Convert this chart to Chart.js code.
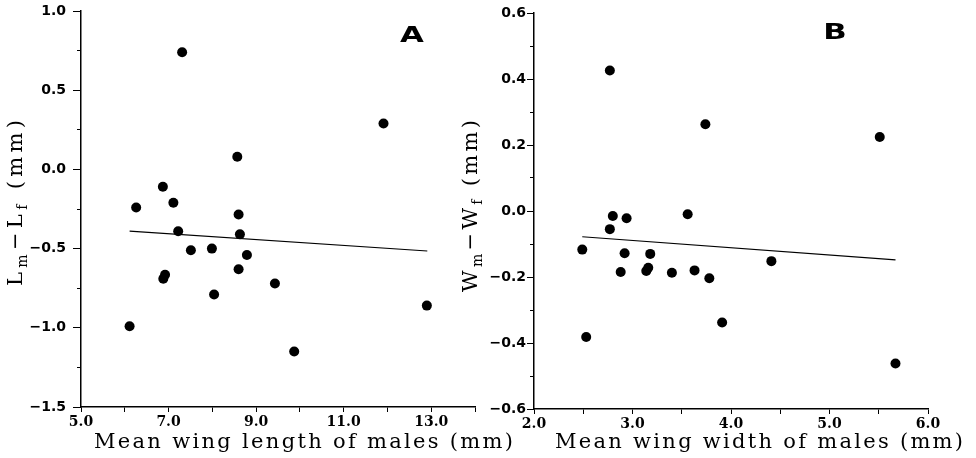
<!DOCTYPE html>
<html>
<head>
<meta charset="utf-8">
<script src="https://cdn.jsdelivr.net/npm/chart.js@4.4.1/dist/chart.umd.min.js"></script>
<style>
  html, body { margin: 0; padding: 0; background: #fff; }
  #wrap { position: relative; width: 976px; height: 458px; }
  #chartA { position: absolute; left: 0; top: 0; width: 520px; height: 458px; }
  #chartB { position: absolute; left: 440px; top: 0; width: 536px; height: 458px; }
</style>
</head>
<body>
<div id="wrap">
  <canvas id="chartA" width="520" height="458"></canvas>
  <canvas id="chartB" width="536" height="458"></canvas>
</div>
<script>
// ===== Data: panel A (wing length) =====
const lengthX = [7.31, 11.91, 8.57, 6.87, 6.26, 7.11, 8.60, 7.22, 8.63, 7.51, 7.99, 8.79, 8.60, 6.92, 6.88, 8.04, 9.43, 6.11, 12.90, 9.87];
const lengthDiff = [0.74, 0.29, 0.08, -0.11, -0.24, -0.21, -0.285, -0.39, -0.41, -0.51, -0.50, -0.54, -0.63, -0.665, -0.69, -0.79, -0.72, -0.99, -0.86, -1.15];
const lengthFitX = [6.11, 12.91];
const lengthFitY = [-0.39, -0.515];
const lengthXTicks = ["5.0", "7.0", "9.0", "11.0", "13.0"];
const lengthYTicks = ["1.0", "0.5", "0.0", "\u22120.5", "\u22121.0", "\u22121.5"];

// ===== Data: panel B (wing width) =====
const widthX = [2.77, 3.74, 5.51, 2.80, 2.94, 3.56, 2.77, 2.49, 2.92, 3.18, 2.88, 3.14, 3.16, 3.40, 3.63, 3.78, 4.41, 2.53, 3.91, 5.67];
const widthDiff = [0.426, 0.263, 0.224, -0.015, -0.022, -0.01, -0.055, -0.117, -0.128, -0.13, -0.185, -0.182, -0.172, -0.187, -0.18, -0.204, -0.152, -0.382, -0.338, -0.462];
const widthFitX = [2.49, 5.67];
const widthFitY = [-0.078, -0.148];
const widthXTicks = ["2.0", "3.0", "4.0", "5.0", "6.0"];
const widthYTicks = ["0.6", "0.4", "0.2", "0.0", "\u22120.2", "\u22120.4", "\u22120.6"];

const fmt = (v) => (Math.abs(v) < 1e-9 ? 0 : v).toFixed(1).replace("-", "\u2212");

// ===== Axis titles and panel letter =====
const panelText = {
  id: "panelText",
  afterDraw(chart, args, o) {
    const ctx = chart.ctx;
    ctx.save();
    ctx.fillStyle = "#000";
    ctx.textBaseline = "alphabetic";

    // panel letter (wide heavy sans)
    ctx.save();
    ctx.font = "bold 22px 'DejaVu Sans'";
    ctx.textAlign = "center";
    ctx.translate(o.letterX, o.letterY);
    ctx.scale(1.4, 1);
    ctx.fillText(o.letter, 0, 0);
    ctx.restore();

    // x title, spread to its width
    ctx.font = "21px 'DejaVu Serif'";
    ctx.textAlign = "left";
    const w = ctx.measureText(o.xTitle).width;
    ctx.letterSpacing = ((o.xRight - o.xLeft - w) / (o.xTitle.length - 1)) + "px";
    ctx.fillText(o.xTitle, o.xLeft, o.xBase);
    ctx.letterSpacing = "0px";

    // y title with subscripts, rotated
    const big = "21px 'DejaVu Serif'";
    const small = "14px 'DejaVu Serif'";
    let total = 0, chars = 0;
    o.yParts.forEach((p) => {
      ctx.font = p.sub ? small : big;
      p.w = ctx.measureText(p.t).width;
      total += p.w;
      chars += p.t.length;
    });
    const sp = (o.yLen - total) / (chars - 1);
    ctx.translate(o.yBase, o.yMid);
    ctx.rotate(-Math.PI / 2);
    let u = -o.yLen / 2;
    o.yParts.forEach((p) => {
      ctx.font = p.sub ? small : big;
      ctx.letterSpacing = sp + "px";
      ctx.fillText(p.t, u, p.sub ? 5 : 0);
      u += p.w + sp * p.t.length;
    });
    ctx.letterSpacing = "0px";
    ctx.restore();
  },
};

const tickFont = (family, size) => ({ family, size, weight: "bold" });

function makeChart(id, xs, ys, fitX, fitY, ax, text) {
  const ctx = document.getElementById(id).getContext("2d");
  return new Chart(ctx, {
    type: "scatter",
    data: {
      datasets: [
        {
          data: xs.map((x, i) => ({ x, y: ys[i] })),
          backgroundColor: "#000",
          borderWidth: 0,
          pointRadius: 5,
        },
        {
          type: "line",
          data: fitX.map((x, i) => ({ x, y: fitY[i] })),
          borderColor: "#000",
          borderWidth: 1.2,
          pointRadius: 0,
          showLine: true,
        },
      ],
    },
    options: {
      responsive: false,
      animation: false,
      events: [],
      layout: { padding: ax.padding, autoPadding: false },
      plugins: { legend: { display: false }, tooltip: { enabled: false }, panelText: text },
      scales: {
        x: {
          type: "linear",
          min: ax.xMin,
          max: ax.xMax,
          afterFit: (s) => { s.height = ax.xHeight; s.paddingLeft = 0; s.paddingRight = 0; },
          ticks: {
            stepSize: ax.xStep,
            autoSkip: false,
            maxRotation: 0,
            padding: 2,
            color: "#000",
            font: tickFont("'DejaVu Serif'", 14),
            callback: (v) => (ax.xLabels.includes(fmt(v)) ? fmt(v) : ""),
          },
          grid: { drawOnChartArea: false, tickLength: 5, color: "#000", lineWidth: 1 },
          border: { display: true, color: "#000", width: 1.5 },
        },
        y: {
          type: "linear",
          min: ax.yMin,
          max: ax.yMax,
          weight: 1,
          afterFit: (s) => { s.width = ax.yWidth; s.paddingTop = 0; s.paddingBottom = 0; },
          ticks: {
            stepSize: ax.yStep,
            autoSkip: false,
            padding: ax.yPad,
            color: "#000",
            font: tickFont("'DejaVu Sans'", 14),
            callback: (v) => (ax.yLabels.includes(fmt(v)) ? fmt(v) : null),
          },
          grid: { drawOnChartArea: false, tickLength: ax.yMajor, color: "#000", lineWidth: 1 },
          border: { display: true, color: "#000", width: 1.5 },
        },
        yMinor: {
          type: "linear",
          position: "left",
          min: ax.yMin,
          max: ax.yMax,
          weight: 0,
          afterFit: (s) => { s.width = 0; s.paddingTop = 0; s.paddingBottom = 0; },
          ticks: { stepSize: ax.yStep / 2, autoSkip: false, callback: () => "" },
          grid: { drawOnChartArea: false, tickLength: 4, color: "#000", lineWidth: 1 },
          border: { display: false },
        },
      },
    },
    plugins: [panelText],
  });
}

makeChart("chartA", lengthX, lengthDiff, lengthFitX, lengthFitY,
  {
    xMin: 5, xMax: 14, xStep: 1, xLabels: lengthXTicks, xHeight: 51,
    yMin: -1.5, yMax: 1.0, yStep: 0.5, yLabels: lengthYTicks, yWidth: 81, yPad: 7, yMajor: 8,
    padding: { top: 11, right: 45, left: 0, bottom: 0 },
  },
  {
    letter: "A", letterX: 412, letterY: 42,
    xTitle: "Mean wing length of males (mm)", xLeft: 94, xRight: 513, xBase: 448,
    yParts: [{ t: "L" }, { t: "m", sub: true }, { t: "\u2212" }, { t: "L" }, { t: "f", sub: true }, { t: " (mm)" }],
    yBase: 22, yMid: 203, yLen: 166,
  });

makeChart("chartB", widthX, widthDiff, widthFitX, widthFitY,
  {
    xMin: 2, xMax: 6, xStep: 0.5, xLabels: widthXTicks, xHeight: 49,
    yMin: -0.6, yMax: 0.6, yStep: 0.2, yLabels: widthYTicks, yWidth: 94, yPad: 1, yMajor: 7,
    padding: { top: 13, right: 48, left: 0, bottom: 0 },
  },
  {
    letter: "B", letterX: 395, letterY: 39,
    xTitle: "Mean wing width of males (mm)", xLeft: 115, xRight: 523, xBase: 448,
    yParts: [{ t: "W" }, { t: "m", sub: true }, { t: "\u2212" }, { t: "W" }, { t: "f", sub: true }, { t: " (mm)" }],
    yBase: 37, yMid: 206, yLen: 172,
  });
</script>
</body>
</html>
